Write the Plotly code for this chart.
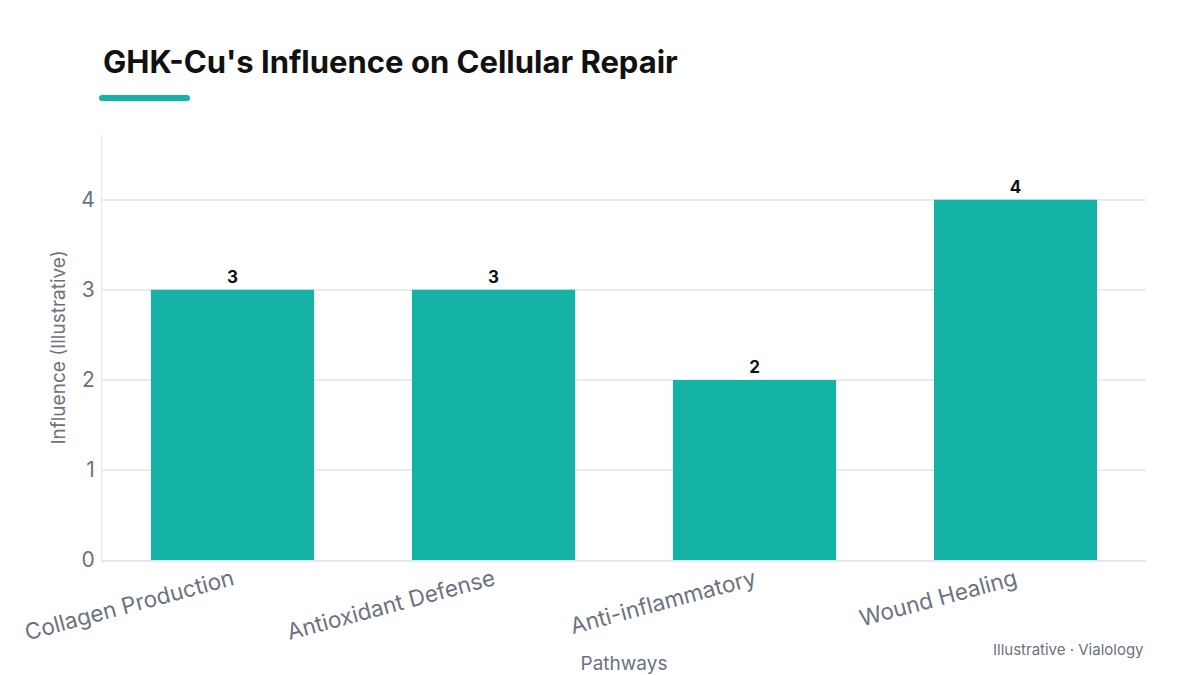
import plotly.graph_objects as go

categories = ["Collagen Production", "Antioxidant Defense", "Anti-inflammatory", "Wound Healing"]
values = [3, 3, 2, 4]
y_ticks = [0, 1, 2, 3, 4]

TEAL = "#14b3a6"
GRAY = "#6b7280"
FONT = "Inter, Roboto, sans-serif"

L, R, T, B = 102, 54, 135, 115

fig = go.Figure(go.Bar(
    x=categories, y=values,
    marker=dict(color=TEAL, line=dict(width=0)),
    text=[str(v) for v in values], textposition="outside",
    textfont=dict(family=FONT, size=17, color="#111111", weight="bold"),
    cliponaxis=False,
    hoverinfo="skip",
))

fig.update_layout(
    width=1200, height=675,
    margin=dict(l=L, r=R, t=T, b=B, autoexpand=False),
    paper_bgcolor="white", plot_bgcolor="white",
    bargap=0.375,
    showlegend=False,
    font=dict(family=FONT, color=GRAY),
    title=dict(text="<b>GHK-Cu's Influence on Cellular Repair</b>",
               x=103/1200, xanchor="left", y=1-62/675, yanchor="middle",
               font=dict(family=FONT, size=31, color="#111111")),
    xaxis=dict(
        automargin=False,
        tickangle=-15, tickfont=dict(size=22.5, color=GRAY),
        showline=True, linecolor="#e5e7eb", linewidth=2,
        showgrid=False, ticks="", ticklabelstandoff=-4,
        title=dict(text="Pathways", font=dict(size=19, color=GRAY), standoff=14),
    ),
    yaxis=dict(
        automargin=False,
        range=[0, 4.72], tickvals=y_ticks,
        tickfont=dict(size=21, color=GRAY),
        showline=True, linecolor="#e5e7eb", linewidth=1,
        showgrid=True, gridcolor="#e9ebee", gridwidth=1.5,
        zeroline=False, ticks="", ticklabelstandoff=2,
        title=dict(text="Influence (Illustrative)", font=dict(size=19, color=GRAY), standoff=10),
    ),
    annotations=[dict(
        text="Illustrative · Vialology", xref="paper", yref="paper",
        x=1, xanchor="right", y=-(649-560)/425, yanchor="middle",
        showarrow=False, font=dict(family=FONT, size=15, color=GRAY),
    )],
)

# accent bar under the title (pixel geometry converted to paper coordinates)
pw, ph = 1200 - L - R, 675 - T - B
def fx(x): return (x - L) / pw
def fy(y): return (675 - B - y) / ph
pts = [("M", 102, 95), ("L", 187, 95), ("Q", 190, 95, 190, 98), ("Q", 190, 101, 187, 101),
       ("L", 102, 101), ("Q", 99, 101, 99, 98), ("Q", 99, 95, 102, 95)]
segs = []
for p in pts:
    nums = p[1:]
    parts = [f"{fx(nums[j]):.5f},{fy(nums[j+1]):.5f}" for j in range(0, len(nums), 2)]
    segs.append(p[0] + " " + " ".join(parts))
fig.add_shape(type="path", xref="paper", yref="paper", path=" ".join(segs) + " Z",
              fillcolor=TEAL, line=dict(width=0), layer="above")

fig.write_html("out.html")
